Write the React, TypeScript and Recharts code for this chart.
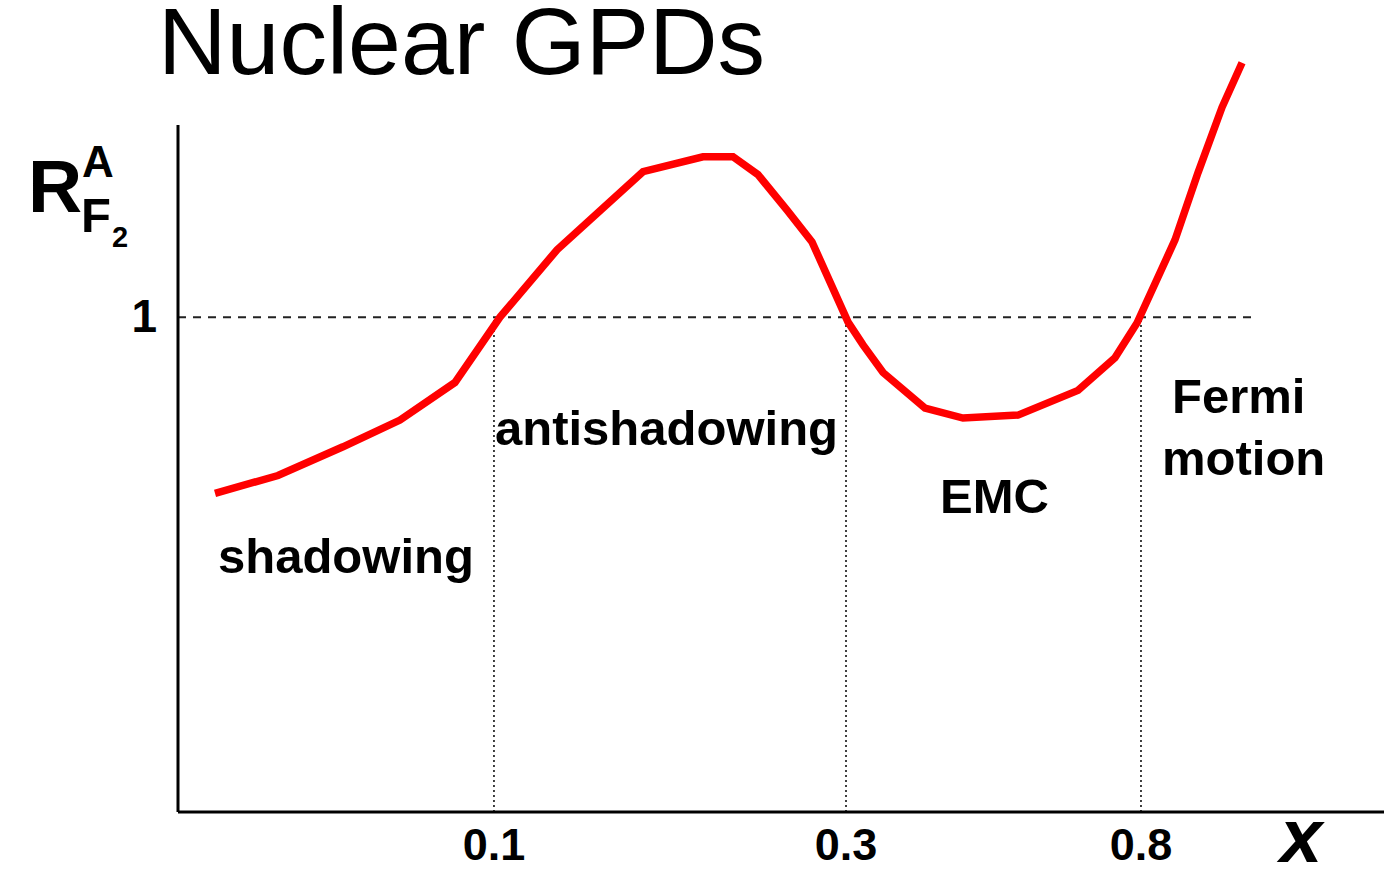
import { LineChart, Line, XAxis, YAxis, ReferenceLine } from "recharts";

// position along x (arbitrary units, log-ish x scale of the sketch)
const xPos = [
  0.307, 0.829, 1.368, 1.841, 2.297, 2.67, 3.143, 3.856, 4.353, 4.602, 4.809,
  5.05, 5.257, 5.556, 5.68, 5.846, 6.194, 6.509, 6.965, 7.463, 7.769, 7.952,
  8.267, 8.458, 8.657, 8.823,
];
// R_F2^A
const ratio = [
  0.822, 0.84, 0.869, 0.896, 0.934, 1.0, 1.068, 1.147, 1.162, 1.162, 1.144,
  1.108, 1.076, 0.995, 0.972, 0.944, 0.908, 0.898, 0.901, 0.926, 0.959, 0.994,
  1.078, 1.146, 1.212, 1.257,
];

const tickPos = [2.62, 5.539, 7.985];
const tickLabels = ["0.1", "0.3", "0.8"];

const regions = [
  { name: "shadowing", x: 218, y: 573 },
  { name: "antishadowing", x: 495, y: 445 },
  { name: "EMC", x: 940, y: 513 },
  { name: "Fermi", x: 1172, y: 413 },
  { name: "motion", x: 1162, y: 475 },
];

const data = xPos.map((x, i) => ({ x, r: ratio[i] }));

const font = "'Liberation Sans', Arial, Helvetica, sans-serif";

export default function App() {
  return (
    <div style={{ position: "absolute", left: 0, top: 0, background: "#fff" }}>
      <LineChart
        width={1384}
        height={879}
        data={data}
        margin={{ top: 40, right: 0, left: 178, bottom: 0 }}
      >
        <XAxis
          dataKey="x"
          type="number"
          domain={[0, 10]}
          ticks={tickPos}
          height={67}
          tickLine={false}
          axisLine={{ stroke: "#000", strokeWidth: 3 }}
          tick={(p: any) => (
            <text
              x={p.x}
              y={860}
              textAnchor="middle"
              fontFamily={font}
              fontWeight="bold"
              fontSize={45}
              fill="#000"
            >
              {tickLabels[tickPos.indexOf(p.payload.value)]}
            </text>
          )}
        />
        <YAxis type="number" domain={[0.5, 1.28]} hide width={0} />

        <ReferenceLine
          segment={[
            { x: 0, y: 1 },
            { x: 8.914, y: 1 },
          ]}
          stroke="#222"
          strokeWidth={2}
          strokeDasharray="8 7"
        />
        {tickPos.map((t) => (
          <ReferenceLine
            key={t}
            segment={[
              { x: t, y: 0.5 },
              { x: t, y: 1 },
            ]}
            stroke="#111"
            strokeWidth={1.6}
            strokeDasharray="2 3"
          />
        ))}
        <ReferenceLine
          segment={[
            { x: 0, y: 0.5 },
            { x: 0, y: 1.194 },
          ]}
          stroke="#000"
          strokeWidth={3}
        />

        <Line
          type="linear"
          dataKey="r"
          stroke="#ff0000"
          strokeWidth={7.5}
          dot={false}
          isAnimationActive={false}
        />

        <text x={158} y={74} fontFamily={font} fontSize={95} fill="#000">
          Nuclear GPDs
        </text>
        <text x={28} y={212} fontFamily={font} fontWeight="bold" fontSize={75} fill="#000">
          R
        </text>
        <text x={82} y={177} fontFamily={font} fontWeight="bold" fontSize={44} fill="#000">
          A
        </text>
        <text x={81} y={232} fontFamily={font} fontWeight="bold" fontSize={49} fill="#000">
          F
        </text>
        <text x={112} y={247} fontFamily={font} fontWeight="bold" fontSize={29} fill="#000">
          2
        </text>
        <text x={157} y={332} textAnchor="end" fontFamily={font} fontWeight="bold" fontSize={46} fill="#000">
          1
        </text>
        <text x={1280} y={862} fontFamily={font} fontWeight="bold" fontStyle="italic" fontSize={76} fill="#000">
          x
        </text>
        {regions.map((r) => (
          <text key={r.name} x={r.x} y={r.y} fontFamily={font} fontWeight="bold" fontSize={49} fill="#000">
            {r.name}
          </text>
        ))}
      </LineChart>
    </div>
  );
}
